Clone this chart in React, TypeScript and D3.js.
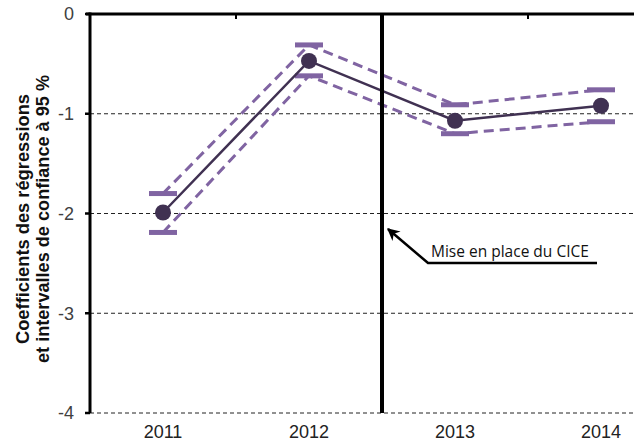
import React from "react";
import * as d3 from "d3";

const years = ["2011", "2012", "2013", "2014"];
const coef = [-1.99, -0.47, -1.07, -0.92];
const upper = [-1.8, -0.31, -0.91, -0.76];
const lower = [-2.19, -0.62, -1.2, -1.08];
const yTicks = [0, -1, -2, -3, -4];
const annotation = "Mise en place du CICE";
const yTitle1 = "Coefficients des régressions";
const yTitle2 = "et intervalles de confiance à 95 %";

const W = 634;
const H = 444;
const PURPLE = "#8064a2";
const DARK = "#403152";

export default function App() {
  const x = d3.scaleBand<string>().domain(years).range([90, 674]).padding(0);
  const y = d3.scaleLinear().domain([-4, 0]).range([413, 14]);
  const cx = (i: number) => (x(years[i]) as number) + x.bandwidth() / 2;

  const line = d3
    .line<number>()
    .x((_, i) => cx(i))
    .y((d) => y(d));

  const boundary = x(years[2]) as number;
  const boundaries = years.slice(1).map((yr) => x(yr) as number);

  const font = "'Liberation Sans', Arial, sans-serif";

  return (
    <div style={{ position: "fixed", left: 0, top: 0 }}>
      <svg width={W} height={H} style={{ display: "block", background: "#fff" }}>
        <defs>
          <marker
            id="arr"
            viewBox="0 0 10 10"
            refX="9"
            refY="5"
            markerWidth="5"
            markerHeight="5"
            orient="auto"
          >
            <path d="M0,0 L10,5 L0,10 L3,5 Z" fill="#000" />
          </marker>
        </defs>
        {yTicks
          .filter((t) => t !== 0)
          .map((t) => (
            <line
              key={t}
              x1={90}
              x2={W}
              y1={y(t)}
              y2={y(t)}
              stroke="#222"
              strokeWidth={1}
              strokeDasharray="4,3"
            />
          ))}
        <line x1={86} x2={W} y1={y(0)} y2={y(0)} stroke="#000" strokeWidth={3} />
        {boundaries.map((b, i) => (
          <line key={i} x1={b} x2={b} y1={y(0)} y2={y(0) + 5} stroke="#000" strokeWidth={2} />
        ))}
        <line x1={90} x2={90} y1={y(0) - 1.5} y2={y(-4)} stroke="#000" strokeWidth={3} />
        {yTicks.map((t) => (
          <g key={t}>
            <line x1={85} x2={90} y1={y(t)} y2={y(t)} stroke="#000" strokeWidth={2.5} />
            <text
              x={74}
              y={y(t)}
              dy="0.35em"
              textAnchor="end"
              fontFamily={font}
              fontSize={18}
              fill="#404040"
            >
              {t}
            </text>
          </g>
        ))}
        {years.map((yr, i) => (
          <text
            key={yr}
            x={cx(i)}
            y={438}
            textAnchor="middle"
            fontFamily={font}
            fontSize={18}
            fill="#222"
          >
            {yr}
          </text>
        ))}
        <g
          transform="translate(0,219) rotate(-90)"
          fontFamily={font}
          fontSize={19}
          fontWeight="bold"
          fill="#111"
          textAnchor="middle"
        >
          <text x={0} y={29} textLength={250} lengthAdjust="spacingAndGlyphs">{yTitle1}</text>
          <text x={0} y={49} textLength={288} lengthAdjust="spacingAndGlyphs">{yTitle2}</text>
        </g>
        <path d={line(upper) || ""} fill="none" stroke={PURPLE} strokeWidth={3} strokeDasharray="10,6" />
        <path d={line(lower) || ""} fill="none" stroke={PURPLE} strokeWidth={3} strokeDasharray="10,6" />
        {years.map((yr, i) => (
          <g key={yr}>
            <line x1={cx(i) - 14} x2={cx(i) + 14} y1={y(upper[i])} y2={y(upper[i])} stroke={PURPLE} strokeWidth={5} />
            <line x1={cx(i) - 14} x2={cx(i) + 14} y1={y(lower[i])} y2={y(lower[i])} stroke={PURPLE} strokeWidth={5} />
          </g>
        ))}
        <path d={line(coef) || ""} fill="none" stroke={DARK} strokeWidth={2.5} />
        {coef.map((c, i) => (
          <circle key={i} cx={cx(i)} cy={y(c)} r={8} fill={DARK} />
        ))}
        <line x1={boundary} x2={boundary} y1={y(0)} y2={y(-4)} stroke="#000" strokeWidth={4} />
        <polyline
          points={`597,263 428,263 ${boundary + 6},229`}
          fill="none"
          stroke="#000"
          strokeWidth={2.5}
          markerEnd="url(#arr)"
        />
        <text x={431} y={257} fontFamily="'Open Sans', 'Noto Sans', sans-serif" fontSize={15.5} fill="#111">
          {annotation}
        </text>
      </svg>
    </div>
  );
}
